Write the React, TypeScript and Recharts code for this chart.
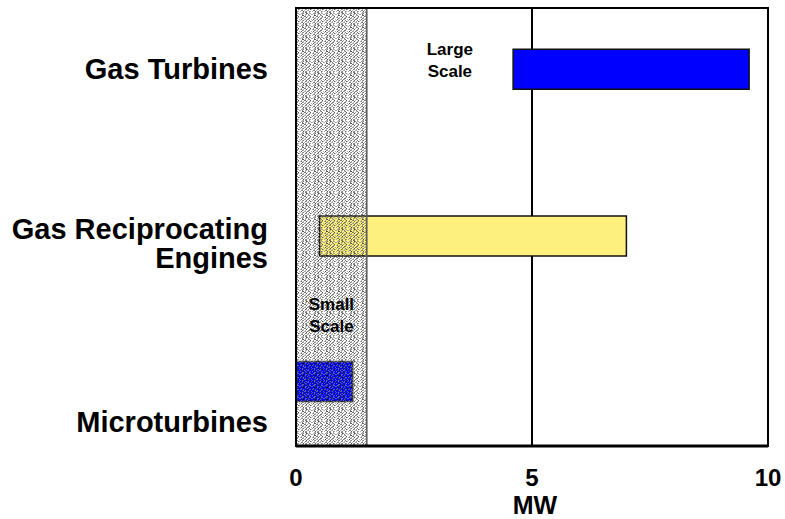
import React from 'react';
import {
  ComposedChart,
  Bar,
  Cell,
  XAxis,
  YAxis,
  Label,
  ReferenceArea,
  ReferenceLine,
  ReferenceDot,
} from 'recharts';

// ---- data ----
const CATEGORIES = ['Gas Turbines', 'Gas Reciprocating\nEngines', 'Microturbines'];
const MW_LOW = [4.6, 0.5, 0];
const MW_HIGH = [9.6, 7.0, 1.2];
const MW_TICKS = [0, 5, 10];
const SMALL_SCALE_MAX = 1.5;
const MIDLINE_MW = 5;
const LARGE_SCALE_TEXT = ['Large', 'Scale'];
const SMALL_SCALE_TEXT = ['Small', 'Scale'];

// ---- layout (row scale 0..10, top to bottom) ----
const BAR_ROWS = [1.39, 5.2, 8.52];
const LABEL_ROWS = [1.38, 5.37, 9.44];
const LARGE_SCALE_AT = { mw: 3.26, row: 1.19 };
const SMALL_SCALE_AT = { mw: 0.75, row: 7.02 };

// ---- styles ----
const BAR_FILLS = ['#0000ff', '#fdf07e', '#0000ff'];
const BAR_STROKES = ['#111111', '#111111', '#3a3a3a'];
const FONT = '"Liberation Sans", Arial, Helvetica, sans-serif';

// 12x12 stipple tile: '.' clear, a/b/c dark to light grey
const STIPPLE = [
  '..cc.bb..c..',
  '.ccb..ab.cc.',
  'c.b..cc.b..c',
  '..aa.c..cb..',
  '.c..bb.c..a.',
  'cb.c..a..cc.',
  '..bc.c..bb..',
  '.a..cc.bc..c',
  'c.cb..a..b..',
  '..c..bc.c.ac',
  '.bb.c..cc...',
  'c..a.cb..bc.',
];
const STIPPLE_COLORS: Record<string, string> = { a: '#101010', b: '#454545', c: '#858585' };

const rows = CATEGORIES.map((name, i) => ({
  name,
  row: BAR_ROWS[i],
  range: [MW_LOW[i], MW_HIGH[i]],
}));

const RowLabel = (props: any) => {
  const { x, y, payload } = props;
  let idx = 0;
  LABEL_ROWS.forEach((r, i) => {
    if (Math.abs(r - payload.value) < Math.abs(LABEL_ROWS[idx] - payload.value)) idx = i;
  });
  const lines = CATEGORIES[idx].split('\n');
  const lh = 29;
  const first = y - ((lines.length - 1) * lh) / 2 + 10.5;
  return (
    <text textAnchor="end" fontFamily={FONT} fontWeight="bold" fontSize={29} fill="#000">
      {lines.map((l, i) => (
        <tspan key={i} x={x} y={first + i * lh}>
          {l}
        </tspan>
      ))}
    </text>
  );
};

const MwTick = (props: any) => {
  const { x, y, payload } = props;
  return (
    <text x={x} y={y + 17} textAnchor="middle" fontFamily={FONT} fontWeight="bold" fontSize={24} fill="#000">
      {payload.value}
    </text>
  );
};

const MwLabel = (props: any) => {
  const vb = props.viewBox || {};
  return (
    <text
      x={vb.x + vb.width / 2 + 3}
      y={vb.y + vb.height - 5}
      textAnchor="middle"
      fontFamily={FONT}
      fontWeight="bold"
      fontSize={25}
      fill="#000"
    >
      MW
    </text>
  );
};

const noteShape = (lines: string[]) => (p: any) => (
  <text textAnchor="middle" fontFamily={FONT} fontWeight="bold" fontSize={17} fill="#000">
    {lines.map((l, i) => (
      <tspan key={i} x={p.cx} y={p.cy - 5 + i * 22}>
        {l}
      </tspan>
    ))}
  </text>
);

export default function App() {
  return (
    <div style={{ position: 'absolute', left: 0, top: 0, width: 785, height: 519, background: '#fff' }}>
      <ComposedChart
        width={785}
        height={519}
        layout="vertical"
        data={rows}
        margin={{ top: 8, right: 17, bottom: 0, left: 0 }}
      >
        <defs>
          <pattern id="stipple" patternUnits="userSpaceOnUse" width={12} height={12}>
            {STIPPLE.flatMap((line, r) =>
              line.split('').map((ch, c) =>
                ch === '.' ? null : (
                  <rect
                    key={`${r}-${c}`}
                    x={c}
                    y={r}
                    width={1}
                    height={1}
                    fill={STIPPLE_COLORS[ch]}
                    fillOpacity={0.7}
                    shapeRendering="crispEdges"
                  />
                )
              )
            )}
          </pattern>
        </defs>
        <XAxis
          type="number"
          domain={[0, 10]}
          ticks={MW_TICKS}
          tick={<MwTick />}
          tickLine={false}
          tickSize={0}
          tickMargin={23}
          axisLine={{ stroke: '#000', strokeWidth: 3 }}
          height={73}
          interval={0}
        >
          <Label content={<MwLabel />} />
        </XAxis>
        <YAxis
          type="number"
          dataKey="row"
          domain={[0, 10]}
          ticks={LABEL_ROWS}
          tick={<RowLabel />}
          tickLine={false}
          tickSize={0}
          tickMargin={28}
          axisLine={false}
          width={296}
          interval={0}
        />
        <ReferenceLine x={MIDLINE_MW} stroke="#000" strokeWidth={2} zIndex={100} />
        <Bar dataKey="range" barSize={40} isAnimationActive={false} strokeWidth={1.5}>
          {rows.map((r, i) => (
            <Cell key={r.name} fill={BAR_FILLS[i]} stroke={BAR_STROKES[i]} />
          ))}
        </Bar>
        <ReferenceArea
          x1={0}
          x2={SMALL_SCALE_MAX}
          fill="url(#stipple)"
          fillOpacity={1}
          stroke="#5a5a5a"
          strokeWidth={1.5}
          zIndex={350}
        />
        <ReferenceArea x1={0} x2={10} fill="none" stroke="#000" strokeWidth={2} zIndex={450} />
        <ReferenceDot
          x={LARGE_SCALE_AT.mw}
          y={LARGE_SCALE_AT.row}
          shape={noteShape(LARGE_SCALE_TEXT)}
          zIndex={2000}
        />
        <ReferenceDot
          x={SMALL_SCALE_AT.mw}
          y={SMALL_SCALE_AT.row}
          shape={noteShape(SMALL_SCALE_TEXT)}
          zIndex={2000}
        />
      </ComposedChart>
    </div>
  );
}
